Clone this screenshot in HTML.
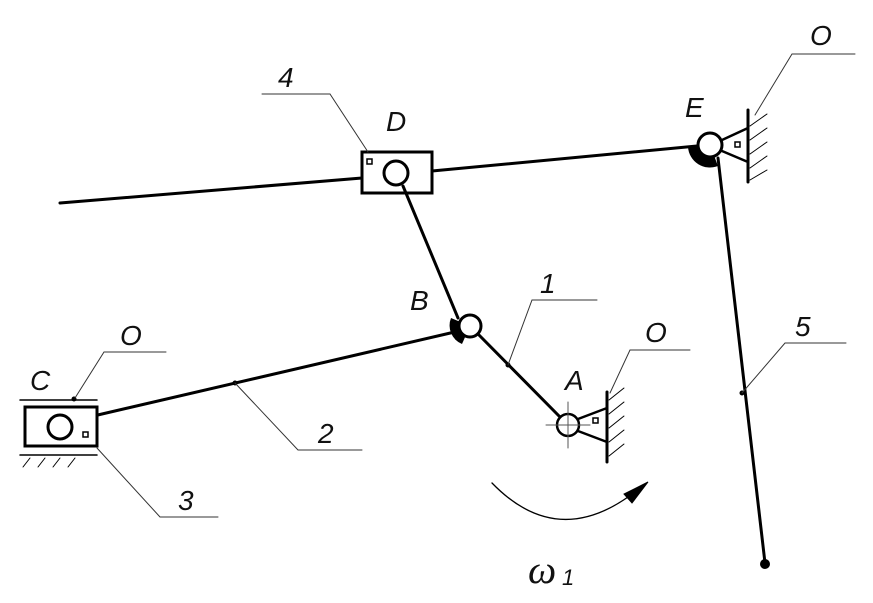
<!DOCTYPE html>
<html><head><meta charset="utf-8"><style>body{margin:0;background:#fff}svg{display:block}</style></head>
<body>
<svg width="873" height="603" viewBox="0 0 873 603" xmlns="http://www.w3.org/2000/svg">
<g stroke="#000" fill="none" stroke-linecap="round">
<line x1="60" y1="203" x2="362" y2="178" stroke-width="3"/>
<line x1="432" y1="171" x2="697" y2="146" stroke-width="3"/>
<rect x="362" y="152" width="70" height="41" stroke-width="3"/>
<circle cx="396" cy="173" r="12" stroke-width="3" fill="#fff"/>
<rect x="367" y="159" width="5" height="5" stroke-width="1.5"/>
<line x1="403" y1="186" x2="458" y2="318" stroke-width="3"/>
<path d="M470 326 L451 318 A20 20 0 0 0 462 344 Z" fill="#000" stroke="none"/>
<circle cx="470" cy="326" r="11" stroke-width="3" fill="#fff"/>
<line x1="478" y1="334" x2="561" y2="418" stroke-width="3"/>
<line x1="72" y1="421" x2="459" y2="331" stroke-width="3"/>
<circle cx="235" cy="383" r="2" fill="#000"/>
<circle cx="508" cy="365" r="2" fill="#000"/>
<circle cx="568" cy="425" r="11" stroke-width="2.5" fill="#fff"/>
<line x1="546" y1="425" x2="590" y2="425" stroke-width="1" stroke="#555"/>
<line x1="568" y1="402" x2="568" y2="448" stroke-width="1" stroke="#555"/>
<path d="M578 419 L607 408 L607 442 L578 431" stroke-width="2.5"/>
<rect x="593" y="418" width="5" height="5" stroke-width="1.5"/>
<line x1="607" y1="392" x2="607" y2="462" stroke-width="3"/>
<g stroke-width="1"><line x1="609" y1="400" x2="624" y2="388"/><line x1="609" y1="414" x2="624" y2="402"/><line x1="609" y1="428" x2="624" y2="416"/><line x1="609" y1="442" x2="624" y2="430"/><line x1="609" y1="456" x2="624" y2="444"/></g>
<path d="M710 145 L688 147 A22 22 0 0 0 718 166 Z" fill="#000" stroke="none"/>
<circle cx="710" cy="145" r="12" stroke-width="3" fill="#fff"/>
<path d="M722 140 L748 128 L748 162 L722 151" stroke-width="2.5"/>
<rect x="735" y="142" width="5" height="5" stroke-width="1.5"/>
<line x1="748" y1="110" x2="748" y2="182" stroke-width="3"/>
<g stroke-width="1"><line x1="750" y1="126" x2="767" y2="114"/><line x1="750" y1="140" x2="767" y2="128"/><line x1="750" y1="154" x2="767" y2="142"/><line x1="750" y1="168" x2="767" y2="156"/><line x1="750" y1="180" x2="767" y2="170"/></g>
<line x1="718" y1="158" x2="765" y2="563" stroke-width="3"/>
<circle cx="765" cy="564" r="5" fill="#000" stroke="none"/>
<circle cx="742" cy="393" r="2" fill="#000"/>
<line x1="20" y1="400" x2="97" y2="400" stroke-width="1.5"/>
<line x1="20" y1="455" x2="97" y2="455" stroke-width="1.5"/>
<g stroke-width="1"><line x1="30" y1="458" x2="23" y2="467"/><line x1="45" y1="458" x2="38" y2="467"/><line x1="60" y1="458" x2="53" y2="467"/><line x1="75" y1="458" x2="68" y2="467"/></g>
<rect x="25" y="407" width="72" height="39" stroke-width="3" fill="#fff"/>
<circle cx="60" cy="427" r="12" stroke-width="3" fill="#fff"/>
<rect x="83" y="432" width="5" height="5" stroke-width="1.5"/>
<circle cx="74" cy="399" r="2.5" fill="#000" stroke="none"/>
<g stroke-width="1" stroke="#333">
<polyline points="166,352 104,352 75,398"/>
<polyline points="855,54 792,54 755,115"/>
<polyline points="330,94 262,94"/>
<line x1="330" y1="94" x2="368" y2="152"/>
<polyline points="597,300 532,300 508,365"/>
<polyline points="690,350 630,350 610,393"/>
<polyline points="846,343 785,343 742,393"/>
<polyline points="362,450 298,450 235,383"/>
<polyline points="218,517 160,517 97,448"/>
</g>
<path d="M492 483 Q555 548 628 497" stroke-width="1.3"/>
<path d="M648 482 L624 494 L632 503 Z" fill="#000" stroke="#000" stroke-width="1"/>
</g>
<g font-family="Liberation Sans, sans-serif" font-style="italic" font-size="28" fill="#111">
<text x="30" y="390">C</text>
<text x="120" y="345">O</text>
<text x="810" y="45">O</text>
<text x="278" y="87">4</text>
<text x="386" y="131">D</text>
<text x="685" y="117">E</text>
<text x="410" y="310">B</text>
<text x="540" y="293">1</text>
<text x="645" y="342">O</text>
<text x="565" y="390">A</text>
<text x="795" y="336">5</text>
<text x="318" y="443">2</text>
<text x="178" y="510">3</text>
<text x="528" y="583" font-size="40" font-family="Liberation Serif, serif">ω</text>
<text x="562" y="585" font-size="22">1</text>
</g>
</svg>
</body></html>
